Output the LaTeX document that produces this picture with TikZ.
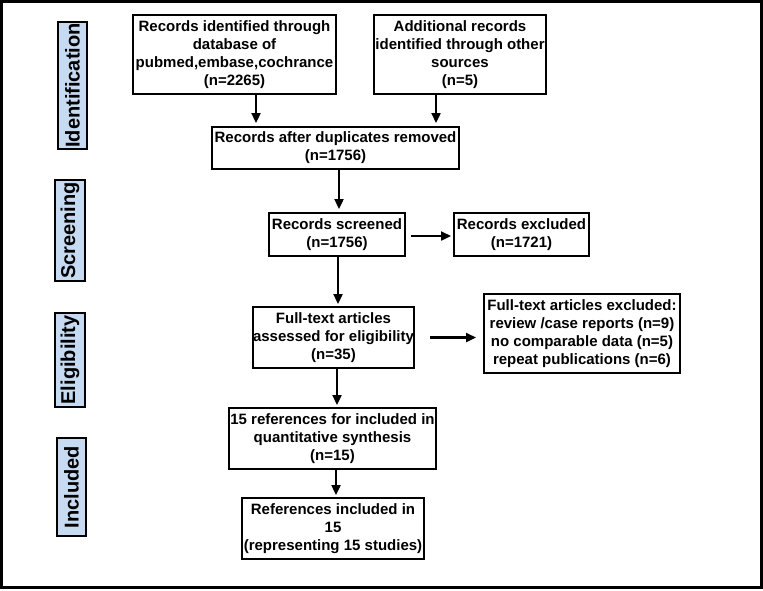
\documentclass[tikz,border=0pt]{standalone}
\usepackage{fontspec}
\setmainfont{Liberation Sans}
\usetikzlibrary{arrows.meta}
\definecolor{lblue}{HTML}{C6DAF2}
\begin{document}
\begin{tikzpicture}[x=1pt,y=-1pt,
  every node/.style={font=\bfseries\fontsize{15}{18}\selectfont},
  box/.style={draw,line width=2pt,align=center,inner sep=0pt},
  stage/.style={draw,line width=2pt,fill=lblue,rotate=90,inner sep=0pt,
     font=\bfseries\fontsize{20}{22}\selectfont},
  arr/.style={line width=2.3pt,-{Triangle[length=10pt,width=9pt]}}]
\useasboundingbox (0,0) rectangle (763,590);
\draw[line width=3pt] (1.5,1.5) rectangle (761,587);
% stage labels
\node[stage,minimum width=127pt,minimum height=29pt] (sI) at (72.5,85.5) {Identification};
\node[stage,minimum width=101pt,minimum height=30pt] (sS) at (70,230.5) {Screening};
\node[stage,minimum width=94pt,minimum height=30pt] (sE) at (70,360) {Eligibility};
\node[stage,minimum width=98pt,minimum height=29pt] (sN) at (71.5,487) {Included};
% boxes
\node[box,minimum width=203pt,minimum height=79pt] (b1) at (234.5,54.5)
  {Records identified through\\database of\\pubmed,embase,cochrance\\(n=2265)};
\node[box,minimum width=172pt,minimum height=79pt] (b2) at (460,54.5)
  {Additional records\\identified through other\\sources\\(n=5)};
\node[box,minimum width=247pt,minimum height=42pt] (b3) at (335.5,148)
  {Records after duplicates removed\\(n=1756)};
\node[box,minimum width=136pt,minimum height=43pt] (b4) at (337,234.5)
  {Records screened\\(n=1756)};
\node[box,minimum width=135pt,minimum height=43pt] (b5) at (521.5,234.5)
  {Records excluded\\(n=1721)};
\node[box,minimum width=161pt,minimum height=61pt] (b6) at (333.5,337.5)
  {Full-text articles\\assessed for eligibility\\(n=35)};
\node[box,minimum width=196pt,minimum height=79pt] (b7) at (582,333.5)
  {Full-text articles excluded:\\review /case reports (n=9)\\no comparable data (n=5)\\repeat publications (n=6)};
\node[box,minimum width=207pt,minimum height=61pt] (b8) at (332.5,438.5)
  {15 references for included in\\quantitative synthesis\\(n=15)};
\node[box,minimum width=182pt,minimum height=61pt] (b9) at (333,528.5)
  {References included in\\15\\(representing 15 studies)};
% arrows
\draw[arr,shorten >=3pt] ([xshift=21.5pt]b1.south) -- ([xshift=21.5pt]b1.south |- b3.north);
\draw[arr,shorten >=3pt] ([xshift=-24pt]b2.south) -- ([xshift=-24pt]b2.south |- b3.north);
\draw[arr,shorten >=3pt] ([xshift=3.5pt]b3.south) -- ([xshift=3.5pt]b3.south |- b4.north);
\draw[arr,shorten >=2pt] ([xshift=1pt]b4.south) -- ([xshift=1pt]b4.south |- b6.north);
\draw[arr,shorten >=2pt] ([xshift=3.5pt]b6.south) -- ([xshift=3.5pt]b6.south |- b8.north);
\draw[arr,shorten >=2pt] ([xshift=3.5pt]b8.south) -- ([xshift=3.5pt]b8.south |- b9.north);
\draw[arr,shorten <=5pt,shorten >=2pt] ([yshift=-1.5pt]b4.east) -- ([yshift=-1.5pt]b4.east -| b5.west);
\draw[arr,shorten <=15pt,shorten >=7pt] (b6.east) -- (b6.east -| b7.west);
\end{tikzpicture}
\end{document}
